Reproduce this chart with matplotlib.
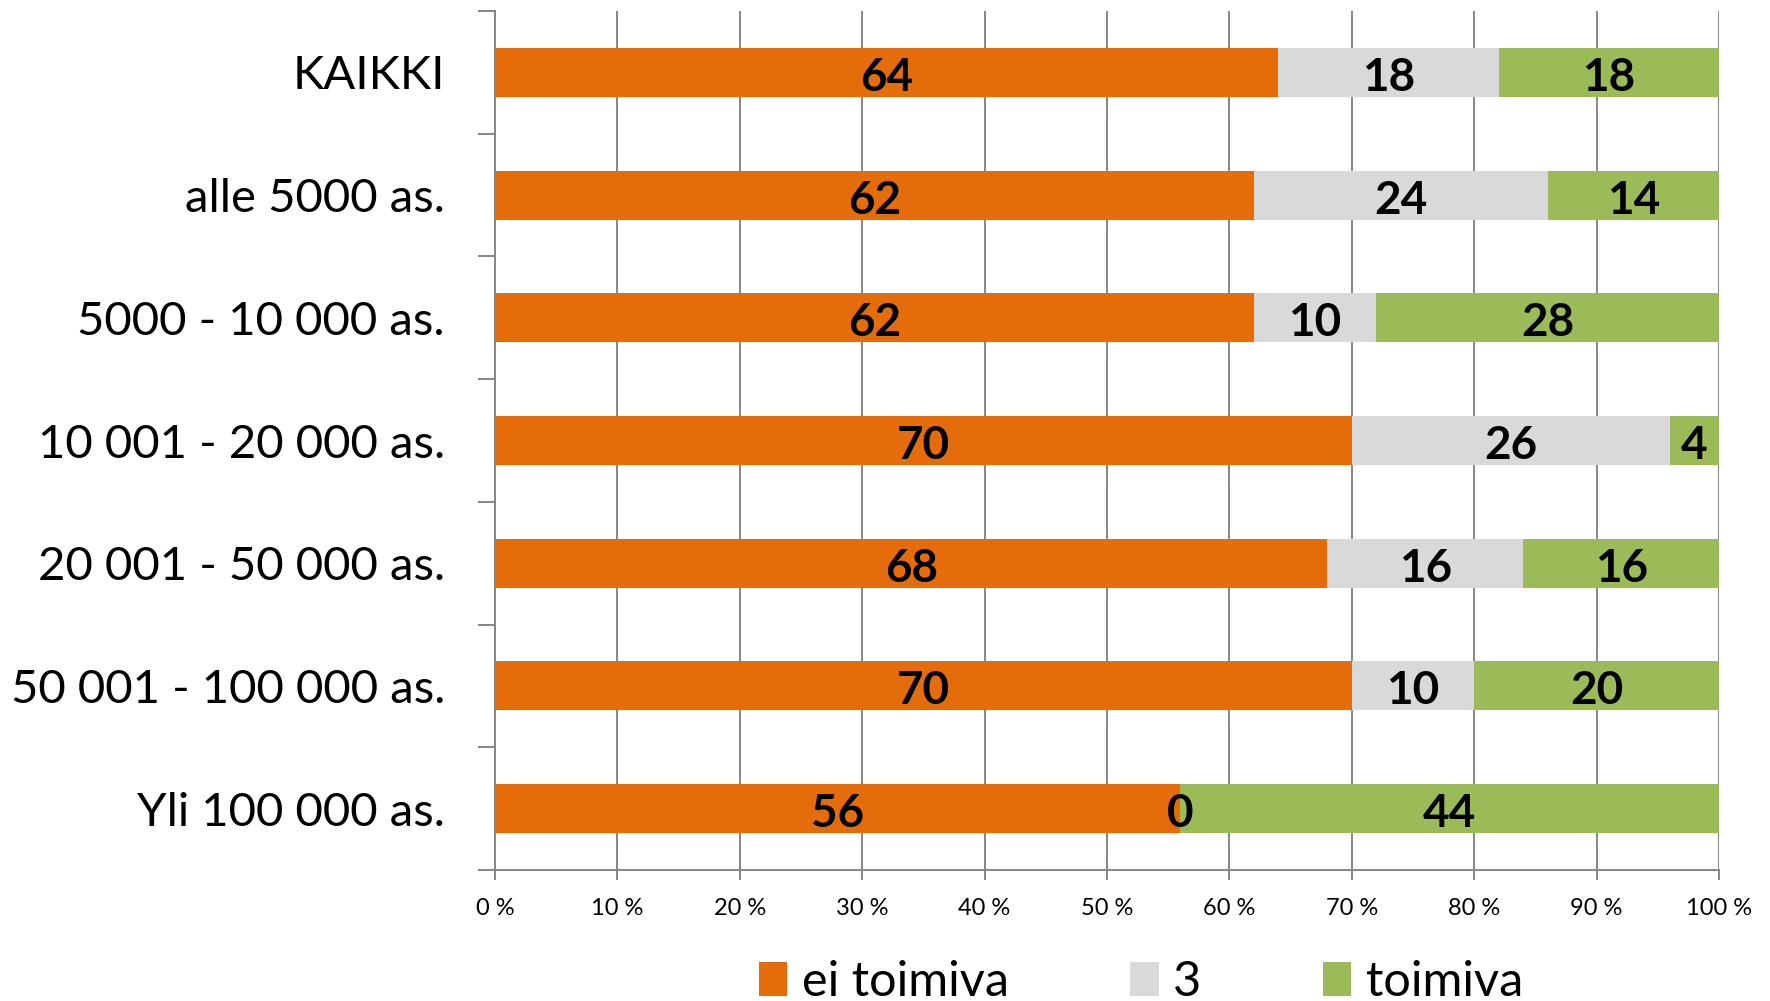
import matplotlib
matplotlib.use("Agg")
import matplotlib.pyplot as plt
from matplotlib.patches import Patch

categories = ["KAIKKI", "alle 5000 as.", "5000 - 10 000 as.", "10 001 - 20 000 as.",
              "20 001 - 50 000 as.", "50 001 - 100 000 as.", "Yli 100 000 as."]
ei_toimiva = [64, 62, 62, 70, 68, 70, 56]
kolme = [18, 24, 10, 26, 16, 10, 0]
toimiva = [18, 14, 28, 4, 16, 20, 44]
series_names = ["ei toimiva", "3", "toimiva"]
colors = ["#E46C0A", "#D9D9D9", "#9BBB59"]
xtick_labels = ["0 %", "10 %", "20 %", "30 %", "40 %", "50 %", "60 %", "70 %", "80 %", "90 %", "100 %"]

plt.rcParams['font.family'] = ['Lato', 'DejaVu Sans']

fig = plt.figure(figsize=(17.7, 10.01), dpi=100)
ax = fig.add_axes([495/1770, 1-870/1001, (1719-495)/1770, (870-11)/1001])

y = list(range(len(categories)))
left = [0]*len(categories)
for name, vals, col in zip(series_names, [ei_toimiva, kolme, toimiva], colors):
    ax.barh(y, vals, left=left, height=0.4, color=col, label=name, zorder=3)
    for yi, l, v in zip(y, left, vals):
        ax.text(l + v/2, yi + 0.045, str(v), ha='center', va='center',
                fontsize=33, fontweight='bold', color='black', zorder=4)
    left = [a + b for a, b in zip(left, vals)]

ax.set_xlim(0, 100)
ax.set_ylim(6.5, -0.5)
ax.set_xticks(range(0, 101, 10))
ax.set_xticklabels(xtick_labels, fontsize=17)
ax.tick_params(axis='x', length=7, width=1.4, color='#868686', pad=13)

ax.set_yticks(y)
ax.set_yticklabels(categories, fontsize=34)
ax.set_yticks([i - 0.5 for i in range(len(categories)+1)], minor=True)
ax.tick_params(axis='y', which='major', length=0, pad=36)
ax.tick_params(axis='y', which='minor', length=12, width=1.4, color='#868686')

ax.grid(axis='x', color='#868686', linewidth=1.4, zorder=0)
for s in ['top', 'right']:
    ax.spines[s].set_visible(False)
for s in ['left', 'bottom']:
    ax.spines[s].set_color('#868686')
    ax.spines[s].set_linewidth(1.4)

handles = [Patch(facecolor=c, label=n) for n, c in zip(series_names, colors)]
leg = fig.legend(handles=handles, loc='center', bbox_to_anchor=(1141/1770, 1-982/1001),
                 ncol=3, frameon=False, fontsize=35, handlelength=0.58, handleheight=0.68,
                 handletextpad=0.3, columnspacing=2.5, borderpad=0)

fig.savefig("out.png", dpi=100)
